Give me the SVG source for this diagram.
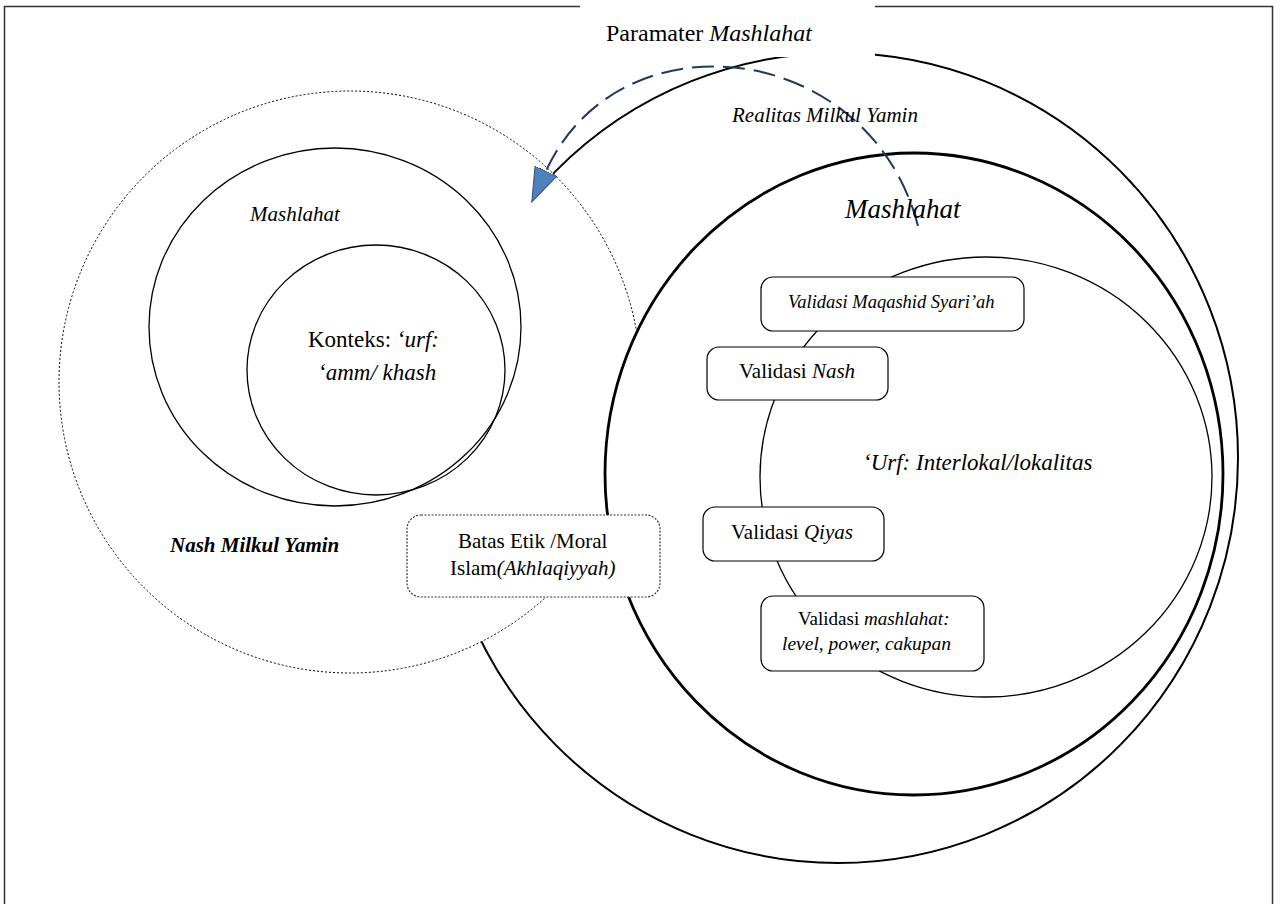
<svg xmlns="http://www.w3.org/2000/svg" width="1280" height="904" viewBox="0 0 1280 904">
  <defs>
    <style>
      .t { font-family: "Liberation Serif", "Times New Roman", serif; fill: #000; }
      .i { font-style: italic; }
      .circ { stroke: #000; fill: none; }
      .box { fill: #fff; stroke: #000; stroke-width: 1.2; }
    </style>
    <marker id="ah" markerUnits="userSpaceOnUse" markerWidth="40" markerHeight="30" refX="0" refY="12" orient="auto" viewBox="0 0 40 30">
      <path d="M0,0 L34,12 L0,24 Z" fill="#4f81bd" stroke="#2f4f7a" stroke-width="1"/>
    </marker>
  </defs>
  <rect id="frame" x="4.5" y="6.5" width="1268" height="1000" fill="#fff" stroke="#333" stroke-width="1.5"/>

  <g id="realitas">
    <ellipse cx="838" cy="458" rx="400" ry="405" fill="#fff" stroke="#000" stroke-width="2"/>
  </g>
  <g id="nash">
    <circle cx="350" cy="382" r="291" fill="#fff" stroke="#000" stroke-width="1" stroke-dasharray="2 2"/>
  </g>
  <g id="mashlahat-right">
    <ellipse cx="914" cy="474" rx="309" ry="321" fill="#fff" stroke="#000" stroke-width="2.8"/>
  </g>
  <g id="urf">
    <ellipse cx="986" cy="477" rx="226" ry="220" class="circ" stroke-width="1.3"/>
  </g>
  <g id="mashlahat-left">
    <ellipse cx="335" cy="327" rx="186" ry="179" class="circ" stroke-width="1.3"/>
  </g>
  <g id="konteks">
    <ellipse cx="376" cy="370" rx="129" ry="125" class="circ" stroke-width="1.3"/>
  </g>

  <g id="title">
    <rect x="580" y="0" width="295" height="57" fill="#fff"/>
    <text class="t" x="606" y="41" font-size="24">Paramater <tspan class="i">Mashlahat</tspan></text>
  </g>

  <g id="connectors">
    <path d="M918,226 C870,40 620,10 546,171" fill="none" stroke="#1f3a60" stroke-width="2" stroke-dasharray="22 9" marker-end="url(#ah)"/>
  </g>

  <g id="labels">
    <text class="t i" x="732" y="122" font-size="21">Realitas Milkul Yamin</text>
    <text class="t i" x="845" y="218" font-size="27">Mashlahat</text>
    <text class="t i" x="250" y="221" font-size="21">Mashlahat</text>
    <text class="t" x="308" y="347" font-size="23">Konteks: <tspan class="i">‘urf:</tspan></text>
    <text class="t i" x="318" y="380" font-size="23">‘amm/ khash</text>
    <text class="t i" x="170" y="552" font-size="21" font-weight="bold">Nash Milkul Yamin</text>
    <text class="t i" x="863" y="470" font-size="23">‘Urf: Interlokal/lokalitas</text>
  </g>

  <g id="batas">
    <rect x="407" y="515" width="253" height="82" rx="14" fill="#fff" stroke="#333" stroke-width="1.2" stroke-dasharray="2 1.5"/>
    <text class="t" x="458" y="548" font-size="21">Batas Etik /Moral</text>
    <text class="t" x="450" y="575" font-size="21">Islam<tspan class="i">(Akhlaqiyyah)</tspan></text>
  </g>
  <g id="maqashid">
    <rect x="761" y="277" width="263" height="54" rx="12" class="box"/>
    <text class="t i" x="788" y="308" font-size="18.5">Validasi Maqashid Syari’ah</text>
  </g>
  <g id="validasi-nash">
    <rect x="707" y="347" width="181" height="53" rx="12" class="box"/>
    <text class="t" x="739" y="378" font-size="21">Validasi <tspan class="i">Nash</tspan></text>
  </g>
  <g id="validasi-qiyas">
    <rect x="703" y="507" width="181" height="54" rx="12" class="box"/>
    <text class="t" x="731" y="539" font-size="21">Validasi <tspan class="i">Qiyas</tspan></text>
  </g>
  <g id="validasi-mashlahat">
    <rect x="761" y="596" width="223" height="75" rx="12" class="box"/>
    <text class="t" x="798" y="625" font-size="19">Validasi <tspan class="i">mashlahat:</tspan></text>
    <text class="t i" x="782" y="650" font-size="19.5">level, power, cakupan</text>
  </g>
</svg>
